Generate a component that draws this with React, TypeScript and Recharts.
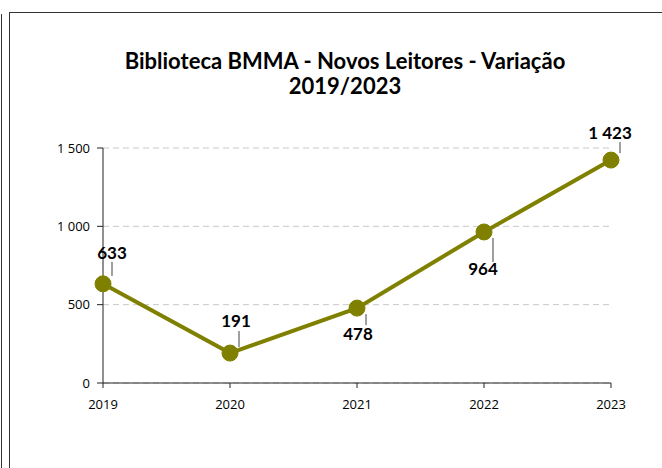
import { CartesianGrid, LabelList, Line, LineChart, XAxis, YAxis } from 'recharts'

const years = ['2019', '2020', '2021', '2022', '2023']
const novosLeitores = [633, 191, 478, 964, 1423]
const yTicks = [0, 500, 1000, 1500]

// where each data label sits relative to its point (text baseline + leader line)
const labelLayout = [
  { dx: 9, dy: -25, from: -22, to: -8 },
  { dx: 6, dy: -26, from: -22, to: -6 },
  { dx: 1, dy: 32, from: 6, to: 17 },
  { dx: -1, dy: 43, from: 6, to: 30 },
  { dx: -1, dy: -21, from: -18, to: -7 },
]

const chartData = years.map((year, i) => ({ year, value: novosLeitores[i] }))

const font = 'Lato, "Open Sans", sans-serif'
const tickFont = '"Open Sans", Lato, sans-serif'

function formatThousands(value: number) {
  return String(value).replace(/\B(?=(\d{3})+(?!\d))/g, ' ')
}

function DataLabel(props: any) {
  const { x, y, value, index } = props
  const l = labelLayout[index] ?? { dx: 0, dy: -20, from: -16, to: -8 }
  return (
    <g>
      <line x1={x + 9} x2={x + 9} y1={y + l.from} y2={y + l.to} stroke="#404040" strokeWidth={1} />
      <text
        x={x + l.dx}
        y={y + l.dy}
        textAnchor="middle"
        fontFamily={font}
        fontWeight={700}
        fontSize={17}
        fill="#000"
      >
        {formatThousands(Number(value))}
      </text>
    </g>
  )
}

export default function App() {
  return (
    <div
      style={{
        position: 'fixed',
        left: 0,
        top: 0,
        width: 662,
        height: 468,
        background: '#fff',
        overflow: 'hidden',
      }}
    >
      <div style={{ position: 'absolute', left: 1, top: 14, width: 0, height: 480, borderLeft: '1.5px solid #333' }} />
      <div
        style={{
          position: 'absolute',
          left: 9,
          top: 12,
          width: 720,
          height: 520,
          borderLeft: '1.5px solid #333',
          borderTop: '1.5px solid #333',
        }}
      />
      <div
        style={{
          position: 'absolute',
          left: 95,
          width: 500,
          top: 48,
          textAlign: 'center',
          fontFamily: font,
          fontWeight: 700,
          fontSize: 22,
          lineHeight: '25px',
          color: '#000',
        }}
      >
        Biblioteca BMMA - Novos Leitores - Variação
        <br />
        2019/2023
      </div>
      <div style={{ position: 'absolute', left: 0, top: 0 }}>
        <LineChart width={662} height={468} data={chartData} margin={{ top: 148, right: 51, bottom: 55, left: 43 }}>
          <CartesianGrid vertical={false} stroke="#c8c8c8" strokeDasharray="6 4" />
          <XAxis
            dataKey="year"
            height={30}
            stroke="#222"
            tickSize={5}
            tickMargin={12}
            tick={{ fill: '#000', fontSize: 13, fontFamily: tickFont }}
          />
          <YAxis
            width={60}
            domain={[0, 1500]}
            ticks={yTicks}
            stroke="#222"
            tickSize={6}
            tickMargin={7}
            tickFormatter={formatThousands}
            tick={{ fill: '#000', fontSize: 13, fontFamily: tickFont }}
          />
          <Line
            type="linear"
            dataKey="value"
            stroke="#808000"
            strokeWidth={4}
            dot={{ r: 8, fill: '#808000', stroke: '#808000', strokeWidth: 1 }}
            activeDot={false}
            isAnimationActive={false}
          >
            <LabelList dataKey="value" content={<DataLabel />} />
          </Line>
        </LineChart>
      </div>
    </div>
  )
}
